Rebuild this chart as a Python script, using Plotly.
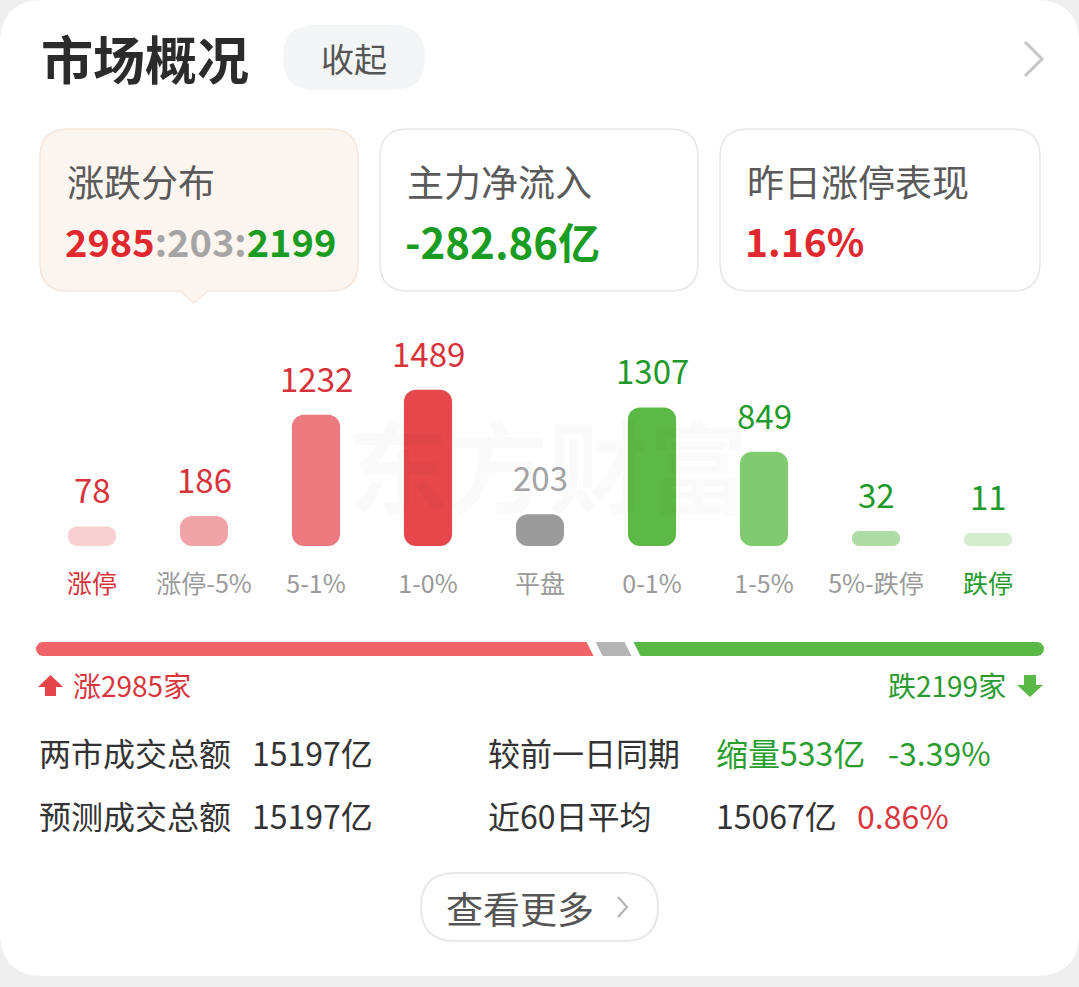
import plotly.graph_objects as go
import numpy as np

# ---------------- data ----------------
categories = ["涨停", "涨停-5%", "5-1%", "1-0%", "平盘", "0-1%", "1-5%", "5%-跌停", "跌停"]
counts = [78, 186, 1232, 1489, 203, 1307, 849, 32, 11]
bar_colors = ["#f8cfd2", "#f1a4a8", "#ec7a7e", "#e5474b", "#9b9b9b",
              "#5cb947", "#80ca6f", "#afdca4", "#d4edcf"]
value_colors = ["#d7333a"] * 4 + ["#a3a3a3"] + ["#1f9a2a"] * 4
tick_colors = ["#d7333a"] + ["#9a9a9a"] * 7 + ["#1f9a2a"]

up_count, flat_count, down_count = 2985, 203, 2199
main_net_inflow = -282.86          # 亿
limit_up_perf = 1.16               # %
turnover_total = 15197             # 亿
turnover_forecast = 15197          # 亿
turnover_change = -533             # 亿
turnover_change_pct = -3.39        # %
avg60_turnover = 15067             # 亿
avg60_pct = 0.86                   # %

# ---------------- layout helpers ----------------
W, H = 1079, 987
DARK = "#333333"
FONT = "Noto Sans CJK SC"


def X(px):
    return px / W


def Y(py):
    return 1 - py / H


def P(x, y):
    return f"{X(x):.5f},{Y(y):.5f}"


def rrect(x0, y0, x1, y1, r, ptr=None):
    p = (f"M {P(x0 + r, y0)} L {P(x1 - r, y0)} Q {P(x1, y0)} {P(x1, y0 + r)} "
         f"L {P(x1, y1 - r)} Q {P(x1, y1)} {P(x1 - r, y1)} ")
    if ptr:
        cx, w, h = ptr
        p += f"L {P(cx + w / 2, y1)} L {P(cx, y1 + h)} L {P(cx - w / 2, y1)} "
    p += (f"L {P(x0 + r, y1)} Q {P(x0, y1)} {P(x0, y1 - r)} "
          f"L {P(x0, y0 + r)} Q {P(x0, y0)} {P(x0 + r, y0)} Z")
    return p


def poly(points):
    return "M " + " L ".join(P(x, y) for x, y in points) + " Z"


shapes = []


def add_shape(path, fill, line_color=None, lw=0, layer="below"):
    shapes.append(dict(type="path", path=path, xref="paper", yref="paper",
                       fillcolor=fill,
                       line=dict(color=line_color or "rgba(0,0,0,0)", width=lw),
                       layer=layer))


annotations = []


def ann(text, x, y, size, color, xanchor="left", bold=False, yanchor="middle", family=FONT):
    if bold:
        text = f"<b>{text}</b>"
    annotations.append(dict(text=text, x=X(x), y=Y(y), xref="paper", yref="paper",
                            xanchor=xanchor, yanchor=yanchor, showarrow=False,
                            font=dict(size=size, color=color, family=family)))


# ---------------- background card ----------------
add_shape(rrect(0, 0, W, 976, 44), "#ffffff")

# header
ann("市场概况", 39, 57, 52, "#2b2b2b", bold=True)
add_shape(rrect(283, 25, 425, 90, 32), "#f4f5f7")
ann("收起", 354, 58, 33, "#555555", xanchor="center")
shapes.append(dict(type="path", path=f"M {P(1025, 42)} L {P(1042, 59)} L {P(1025, 76)}",
                   xref="paper", yref="paper", line=dict(color="#c6c6c6", width=3)))

# three info cards
add_shape(rrect(40, 129, 358, 291, 28, ptr=(194, 28, 12)), "#fdf5ef", "#f5e6dc", 1.5)
add_shape(rrect(380, 129, 698, 291, 28), "#ffffff", "#e6e6e6", 1.5)
add_shape(rrect(720, 129, 1040, 291, 28), "#ffffff", "#e6e6e6", 1.5)

ann("涨跌分布", 65, 181, 37, "#5a5a5a")
ann("主力净流入", 405, 181, 37, "#5a5a5a")
ann("昨日涨停表现", 745, 181, 37, "#5a5a5a")
ann(f'<span style="color:#e0282e">{up_count}</span>'
    f'<span style="color:#a5a5a5">:{flat_count}:</span>'
    f'<span style="color:#1a9c23">{down_count}</span>', 63, 240, 38, "#e0282e", bold=True)
ann(f"{main_net_inflow:.2f}亿", 403, 240, 42, "#1a9c23", bold=True)
ann(f"{limit_up_perf:.2f}%", 743, 240, 39, "#e0282e", bold=True)

# watermark
ann("东方财富", 548, 462, 100, "rgba(0,0,0,0.018)", xanchor="center", bold=True)

# ---------------- bar chart ----------------
MIN_BAR = 124  # minimum visible bar stub (value units)
PX_PER_UNIT = 0.0968
plot_top, plot_bottom = 330, 546
y_top = -MIN_BAR + (plot_bottom - plot_top) / PX_PER_UNIT

fig = go.Figure()
fig.add_trace(go.Bar(
    x=categories, y=[c + MIN_BAR for c in counts], base=-MIN_BAR,
    marker=dict(color=bar_colors, cornerradius=12, line=dict(width=0)),
    width=0.43, hoverinfo="skip", xaxis="x", yaxis="y"))

for cat, c, col in zip(categories, counts, value_colors):
    annotations.append(dict(text=str(c), x=cat, y=c, xref="x", yref="y",
                            yshift=37, showarrow=False, xanchor="center", yanchor="middle",
                            font=dict(size=33, color=col, family=FONT)))

ticktext = [f'<span style="color:{c}">{t}</span>' for t, c in zip(categories, tick_colors)]

# ---------------- ratio bar ----------------
total = up_count + flat_count + down_count
upp = total / (1044 - 36)          # units per pixel
gap, slant = 9 * upp, 7 * upp
rx, ry = 7 * upp, 7.0
c1 = up_count
c2 = up_count + flat_count

th = np.linspace(np.pi / 2, 3 * np.pi / 2, 20)
red_x = list(rx + rx * np.cos(th)) + [c1 - gap / 2 + slant / 2, c1 - gap / 2 - slant / 2]
red_y = list(ry + ry * np.sin(th)) + [0, 14]
gray_x = [c1 + gap / 2 - slant / 2, c1 + gap / 2 + slant / 2,
          c2 - gap / 2 + slant / 2, c2 - gap / 2 - slant / 2]
gray_y = [14, 0, 0, 14]
th2 = np.linspace(-np.pi / 2, np.pi / 2, 20)
green_x = [c2 + gap / 2 - slant / 2, c2 + gap / 2 + slant / 2] + list(total - rx + rx * np.cos(th2))
green_y = [14, 0] + list(ry + ry * np.sin(th2))

for xs, ys, col in [(red_x, red_y, "#f06367"), (gray_x, gray_y, "#b5b5b5"),
                    (green_x, green_y, "#5ab946")]:
    fig.add_trace(go.Scatter(x=xs, y=ys, fill="toself", fillcolor=col, mode="lines",
                             line=dict(width=0, color=col), hoverinfo="skip",
                             xaxis="x2", yaxis="y2"))

# arrows + counts
add_shape(poly([(38, 687), (50.5, 675), (63, 687), (56, 687), (56, 696), (45, 696), (45, 687)]),
          "#e5454a", layer="above")
add_shape(poly([(1024, 675), (1036, 675), (1036, 685), (1043, 685), (1030, 697),
                (1017, 685), (1024, 685)]), "#5ab946", layer="above")
ann(f"涨{up_count}家", 71, 685, 28, "#d9363e")
ann(f"跌{down_count}家", 1008, 685, 28, "#2a9a2f", xanchor="right")

# ---------------- stats ----------------
ann("两市成交总额", 37, 752, 32, DARK)
ann(f"{turnover_total}亿", 250, 752, 32, DARK)
ann("较前一日同期", 486, 752, 32, DARK)
ann(f"缩量{abs(turnover_change)}亿", 714, 752, 32, "#2a9d2f")
ann(f"{turnover_change_pct:.2f}%", 886, 752, 32, "#2a9d2f")
ann("预测成交总额", 37, 815, 32, DARK)
ann(f"{turnover_forecast}亿", 250, 815, 32, DARK)
ann("近60日平均", 486, 815, 32, DARK)
ann(f"{avg60_turnover}亿", 714, 815, 32, DARK)
ann(f"{avg60_pct:.2f}%", 855, 815, 32, "#d9363e")

# more button
add_shape(rrect(421, 873, 658, 941, 34), "#ffffff", "#e8e8e8", 2)
ann("查看更多", 444, 908, 37, "#555555")
shapes.append(dict(type="path", path=f"M {P(618, 897)} L {P(627, 907)} L {P(618, 917)}",
                   xref="paper", yref="paper", line=dict(color="#b0b0b0", width=2)))

fig.update_layout(
    width=W, height=H, margin=dict(l=0, r=0, t=0, b=0),
    paper_bgcolor="#efefef", plot_bgcolor="rgba(0,0,0,0)",
    showlegend=False, hovermode=False,
    font=dict(family=FONT),
    xaxis=dict(domain=[X(36), X(1044)], range=[-0.5, 8.5], type="category",
               tickvals=categories, ticktext=ticktext, tickfont=dict(size=25),
               ticks="outside", ticklen=16, tickcolor="rgba(0,0,0,0)",
               showgrid=False, zeroline=False, showline=False, fixedrange=True),
    yaxis=dict(domain=[Y(plot_bottom), Y(plot_top)], range=[-MIN_BAR, y_top],
               visible=False, fixedrange=True),
    xaxis2=dict(domain=[X(36), X(1044)], range=[0, total], visible=False, anchor="y2"),
    yaxis2=dict(domain=[Y(656), Y(642)], range=[0, 14], visible=False, anchor="x2"),
    shapes=shapes, annotations=annotations,
)

fig.write_html("out.html", config={"displayModeBar": False},
               post_script="document.body.style.margin='0';document.body.style.overflow='hidden';")
